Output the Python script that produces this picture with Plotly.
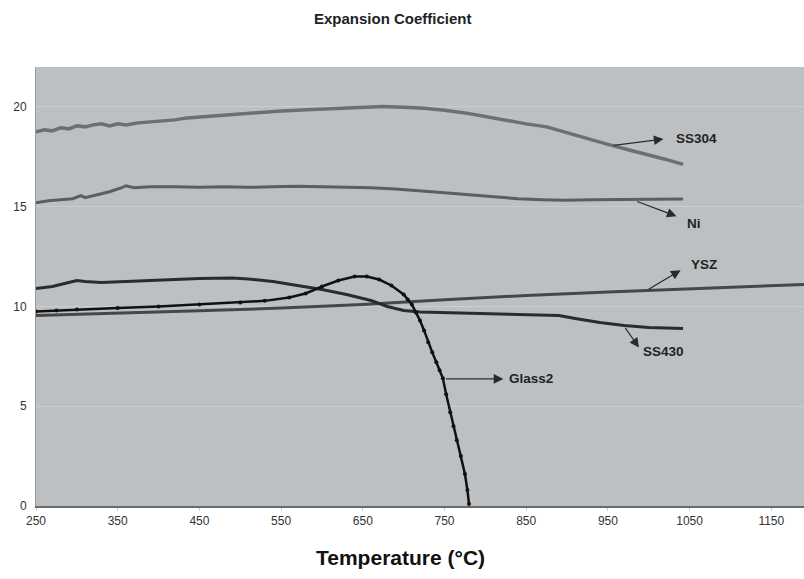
import plotly.graph_objects as go

# ---- data ----
ss304_t = [250, 260, 270, 280, 290, 300, 310, 320, 330, 340, 350, 360, 375, 390, 405, 420, 435, 450,
           470, 490, 510, 530, 550, 575, 600, 625, 650, 675, 700, 725, 750, 775, 800, 825, 850, 875,
           900, 925, 950, 975, 1000, 1020, 1042]
ss304_v = [18.75, 18.85, 18.8, 18.95, 18.9, 19.05, 19.0, 19.1, 19.15, 19.05, 19.15, 19.1, 19.2, 19.25,
           19.3, 19.35, 19.45, 19.5, 19.55, 19.6, 19.7, 19.75, 19.8, 19.85, 19.9, 19.95, 20.0, 20.02,
           19.98, 19.93, 19.83, 19.7, 19.52, 19.33, 19.15, 19.0, 18.7, 18.42, 18.12, 17.85, 17.6,
           17.38, 17.12]

ni_t = [250, 265, 280, 295, 305, 310, 325, 340, 355, 360, 370, 390, 420, 450, 480, 510, 540, 570,
        600, 630, 660, 690, 720, 750, 780, 810, 840, 870, 900, 930, 960, 1000, 1042]
ni_v = [15.2, 15.3, 15.35, 15.4, 15.55, 15.45, 15.6, 15.75, 15.95, 16.05, 15.95, 16.0, 16.0, 15.98,
        16.0, 15.97, 16.0, 16.02, 16.0, 15.97, 15.95, 15.88, 15.8, 15.7, 15.6, 15.5, 15.4, 15.35,
        15.32, 15.35, 15.35, 15.38, 15.38]

ysz_t = [250, 350, 450, 550, 650, 750, 850, 950, 1050, 1190]
ysz_v = [9.55, 9.65, 9.78, 9.92, 10.1, 10.33, 10.55, 10.73, 10.9, 11.1]

ss430_t = [250, 270, 290, 300, 310, 330, 360, 400, 450, 490, 510, 540, 570, 600, 630, 660, 680,
           700, 720, 760, 800, 850, 890, 910, 940, 970, 1000, 1042]
ss430_v = [10.9, 11.0, 11.2, 11.3, 11.25, 11.2, 11.25, 11.33, 11.4, 11.42, 11.38, 11.25, 11.05,
           10.85, 10.6, 10.3, 10.0, 9.8, 9.72, 9.68, 9.62, 9.58, 9.55, 9.4, 9.2, 9.05, 8.95, 8.9]

glass_t = [250, 275, 300, 350, 400, 450, 500, 530, 560, 580, 600, 620, 640, 655, 670, 685, 700,
           705, 710, 715, 720, 725, 730, 735, 740, 744, 748, 752, 757, 761, 765, 770, 775, 778, 780]
glass_v = [9.75, 9.8, 9.85, 9.92, 10.0, 10.1, 10.2, 10.28, 10.45, 10.65, 11.0, 11.3, 11.5, 11.5,
           11.35, 11.05, 10.6, 10.35, 10.1, 9.7, 9.3, 8.8, 8.2, 7.7, 7.2, 6.8, 6.4, 5.6, 4.7, 4.0,
           3.3, 2.5, 1.6, 0.8, 0.1]

x_ticks = [250, 350, 450, 550, 650, 750, 850, 950, 1050, 1150]
y_ticks = [0, 5, 10, 15, 20]

# label: (text, label_x, label_y, arrow_head_x, arrow_head_y, arrow_tail_x, arrow_tail_y)
labels = [
    ("SS304", 1031, 18.44, 1018, 18.39, 955, 18.06),
    ("Ni", 1044, 14.17, 1034, 14.52, 984, 15.29),
    ("YSZ", 1049, 12.08, 1039, 11.82, 998, 10.82),
    ("SS430", 990, 7.75, 988, 7.94, 970, 9.0),
    ("Glass2", 827, 6.37, 822, 6.37, 750, 6.37),
]

FONT = "Arial, Liberation Sans, sans-serif"

fig = go.Figure()
fig.add_trace(go.Scatter(x=ss304_t, y=ss304_v, mode="lines", name="SS304",
                         line=dict(color="#6f6f6f", width=3.5)))
fig.add_trace(go.Scatter(x=ni_t, y=ni_v, mode="lines", name="Ni",
                         line=dict(color="#5e5e5e", width=3)))
fig.add_trace(go.Scatter(x=ysz_t, y=ysz_v, mode="lines", name="YSZ",
                         line=dict(color="#474747", width=3)))
fig.add_trace(go.Scatter(x=ss430_t, y=ss430_v, mode="lines", name="SS430",
                         line=dict(color="#2b2b2b", width=3)))
fig.add_trace(go.Scatter(x=glass_t, y=glass_v, mode="lines+markers", name="Glass2",
                         line=dict(color="#111111", width=2.5),
                         marker=dict(color="#111111", size=4)))

for text, lx, ly, hx, hy, tx, ty in labels:
    fig.add_annotation(x=hx, y=hy, ax=tx, ay=ty, xref="x", yref="y", axref="x", ayref="y",
                       text="", showarrow=True, arrowhead=2, arrowsize=1.6, arrowwidth=1.2,
                       arrowcolor="#2a2a2a")
    fig.add_annotation(x=lx, y=ly, xref="x", yref="y", text="<b>%s</b>" % text, showarrow=False,
                       xanchor="left", yanchor="middle",
                       font=dict(family=FONT, size=13.5, color="#222222"))

# chart title and x-axis title as paper-positioned text
fig.add_annotation(x=0.465, y=1.111, xref="paper", yref="paper", showarrow=False,
                   text="<b>Expansion Coefficient</b>", xanchor="center", yanchor="middle",
                   font=dict(family=FONT, size=15, color="#222222"))
fig.add_annotation(x=0.475, y=-0.117, xref="paper", yref="paper", showarrow=False,
                   text="<b>Temperature (°C)</b>", xanchor="center", yanchor="middle",
                   font=dict(family=FONT, size=21, color="#111111"))

fig.update_layout(
    width=804, height=579,
    margin=dict(l=36, r=0, t=67, b=73),
    paper_bgcolor="white",
    plot_bgcolor="#bdc0c3",
    showlegend=False,
    xaxis=dict(range=[250, 1190], tickvals=x_ticks, ticktext=[str(v) for v in x_ticks],
               automargin=False,
               showgrid=False, zeroline=False, showline=True, linecolor="#6a6a6a", linewidth=1.5,
               ticks="outside", ticklen=3, tickcolor="#cccccc",
               tickfont=dict(family=FONT, size=12, color="#333333")),
    yaxis=dict(range=[0, 22], tickvals=y_ticks, ticktext=[str(v) for v in y_ticks],
               automargin=False,
               showgrid=True, gridcolor="#cbcdd0", gridwidth=1, zeroline=False,
               showline=True, linecolor="#9a9a9a", linewidth=1,
               ticks="", ticklabelstandoff=6,
               tickfont=dict(family=FONT, size=12, color="#333333")),
)

fig.write_html("out.html", config={"displayModeBar": False},
               post_script="document.body.style.margin='0';document.body.style.overflow='hidden';")
